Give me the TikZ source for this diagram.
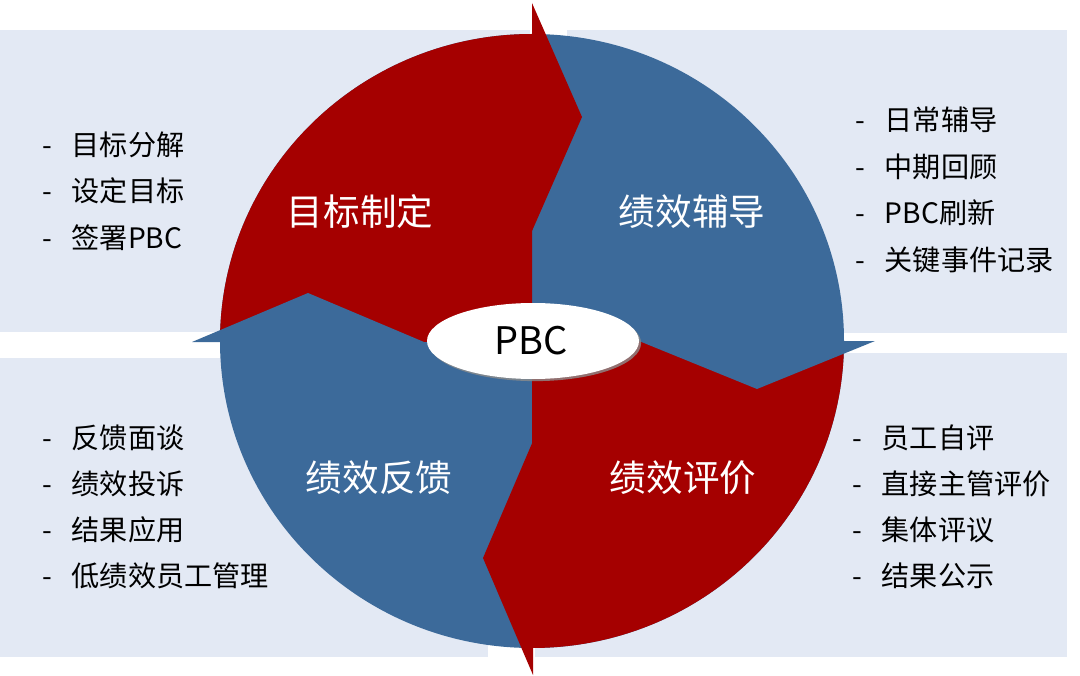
\documentclass[tikz,border=0pt]{standalone}
\usepackage{fontspec}
\setmainfont{Noto Sans CJK SC}
\usetikzlibrary{shadows}
\definecolor{pbcred}{HTML}{A50000}
\definecolor{pbcblue}{HTML}{3C6A9A}
\definecolor{panelbg}{HTML}{E3E9F4}
\newcommand{\itm}[1]{\makebox[1.05em][l]{-}#1}

\begin{document}
\begin{tikzpicture}[x=0.025cm,y=-0.025cm,
  item/.style={anchor=west,inner sep=0pt,font=\fontsize{20}{24}\selectfont},
  phase/.style={white,inner sep=0pt,font=\fontsize{26}{30}\selectfont}]
  \useasboundingbox (0,0) rectangle (1080,676);
  % panels
  \fill[panelbg] (0,30) rectangle (530,332);
  \fill[panelbg] (567,30) rectangle (1067,333);
  \fill[panelbg] (0,358) rectangle (488,657);
  \fill[panelbg] (535,353) rectangle (1067,657);

  % circle, blue first then the two red quarters
  \fill[pbcblue] (532,341) ellipse (312 and 307);
  \begin{scope}
    \clip (0,0) rectangle (532,341);
    \fill[pbcred] (532,341) ellipse (312 and 307);
  \end{scope}
  \begin{scope}
    \clip (532,341) rectangle (1080,676);
    \fill[pbcred] (532,341) ellipse (312 and 307);
  \end{scope}

  % arrow heads
  \fill[pbcred] (532,3) -- (582,117) -- (532,231) -- cycle;
  \fill[pbcblue] (875,341) -- (757,389) -- (639,341) -- cycle;
  \fill[pbcred] (533,675) -- (483,558) -- (533,441) -- cycle;
  \fill[pbcblue] (192,342) -- (308,293) -- (424,342) -- cycle;

  \fill[white,drop shadow={shadow xshift=1.5pt,shadow yshift=-1.5pt,fill=black!45,opacity=0.8}] (533,341) ellipse (106 and 38);
  \node[font=\fontsize{27}{30}\selectfont] (pbc) at (531,341) {PBC};

  \node[phase] (goal) at (360,212) {目标制定};
  \node[phase] (coach) at (692,212) {绩效辅导};
  \node[phase] (feedback) at (379,478) {绩效反馈};
  \node[phase] (review) at (683,478) {绩效评价};

  \node[item] (g1) at (42,145) {\itm{目标分解}};
  \node[item] (g2) at (42,191) {\itm{设定目标}};
  \node[item] (g3) at (42,238) {\itm{签署PBC}};

  \node[item] (c1) at (855,120) {\itm{日常辅导}};
  \node[item] (c2) at (855,167) {\itm{中期回顾}};
  \node[item] (c3) at (855,213) {\itm{PBC刷新}};
  \node[item] (c4) at (855,260) {\itm{关键事件记录}};

  \node[item] (f1) at (42,438) {\itm{反馈面谈}};
  \node[item] (f2) at (42,484) {\itm{绩效投诉}};
  \node[item] (f3) at (42,530) {\itm{结果应用}};
  \node[item] (f4) at (42,576) {\itm{低绩效员工管理}};

  \node[item] (r1) at (852,438) {\itm{员工自评}};
  \node[item] (r2) at (852,484) {\itm{直接主管评价}};
  \node[item] (r3) at (852,530) {\itm{集体评议}};
  \node[item] (r4) at (852,576) {\itm{结果公示}};
\end{tikzpicture}
\end{document}
